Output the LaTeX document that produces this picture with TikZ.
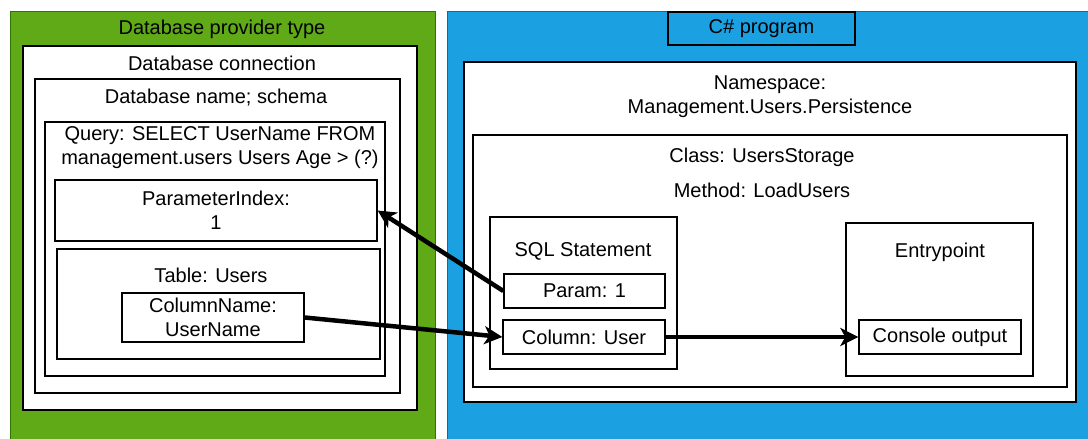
\documentclass[tikz,border=0pt]{standalone}
\usepackage{fontspec}
\setmainfont{Liberation Sans}
\usetikzlibrary{arrows.meta}
\definecolor{providergreen}{HTML}{60A917}
\definecolor{providerline}{HTML}{2D7600}
\definecolor{programblue}{HTML}{1BA1E2}
\definecolor{programline}{HTML}{006EAF}

\begin{document}
\begin{tikzpicture}[x=1pt,y=-1pt,
outer box/.style={draw,line width=1pt,inner sep=0pt},
main box/.style={draw,fill=white,line width=1.3pt,inner sep=0pt,align=center,
  font=\fontsize{20}{24}\selectfont},
label node/.style={align=center,inner sep=0pt,font=\fontsize{20}{24}\selectfont},
flow/.style={line width=4.5pt,-{Stealth[length=18pt,width=18pt,inset=5pt]}}]
\clip (0,0) rectangle (1088,439);

% database side
\node[outer box,fill=providergreen,draw=providerline,minimum width=425,minimum height=440] (provider) at (222.5,231) {};
\node[main box,minimum width=394,minimum height=364] (conn) at (220,228) {};
\node[main box,minimum width=365,minimum height=314] (dbname) at (217.5,236) {};
\node[main box,minimum width=340,minimum height=254] (query) at (215,249) {};
\node[main box,minimum width=322,minimum height=61] (pidx) at (216,210.5) {ParameterIndex:\\1};
\node[main box,minimum width=323,minimum height=110] (table) at (218.5,304) {};
\node[main box,minimum width=182,minimum height=49] (colname) at (213,317.5) {ColumnName:\\UserName};

\node[label node] (providerlbl) at (222,29) {Database provider type};
\node[label node] (connlbl) at (222,63) {Database connection};
\node[label node] (dbnamelbl) at (216,98) {Database name; schema};
\node[label node] (querylbl) at (220,147.5) {Query: SELECT UserName FROM\\management.users Users Age > (?)};
\node[label node] (tablelbl) at (211,275) {Table: Users};

% program side
\node[outer box,fill=programblue,draw=programline,minimum width=653,minimum height=440] (program) at (773.5,231) {};
\node[main box,fill=programblue,minimum width=187,minimum height=33] (csharp) at (761.5,28.5) {C\# program};
\node[main box,minimum width=612,minimum height=340] (namespace) at (770,232) {};
\node[main box,minimum width=594,minimum height=252] (class) at (770,261) {};
\node[main box,minimum width=187,minimum height=152] (sqlstmt) at (583.5,293) {};
\node[main box,minimum width=161,minimum height=34] (param) at (584.5,291) {Param: 1};
\node[main box,minimum width=162,minimum height=34] (column) at (584,337) {Column: User};
\node[main box,minimum width=187,minimum height=153] (entry) at (939.5,299.5) {};
\node[main box,minimum width=162,minimum height=34] (console) at (940,337) {Console output};

\node[label node] (namespacelbl) at (770,97) {Namespace:\\Management.Users.Persistence};
\node[label node] (classlbl) at (762,157) {Class: UsersStorage};
\node[label node] (methodlbl) at (762,190) {Method: LoadUsers};
\node[label node] (sqllbl) at (583,251) {SQL Statement};
\node[label node] (entrylbl) at (940,252) {Entrypoint};

% mappings
\draw[flow] (param.west) -- (pidx.east);
\draw[flow] (colname.east) -- (column.west);
\draw[flow] (column.east) -- (console.west);

\end{tikzpicture}
\end{document}
